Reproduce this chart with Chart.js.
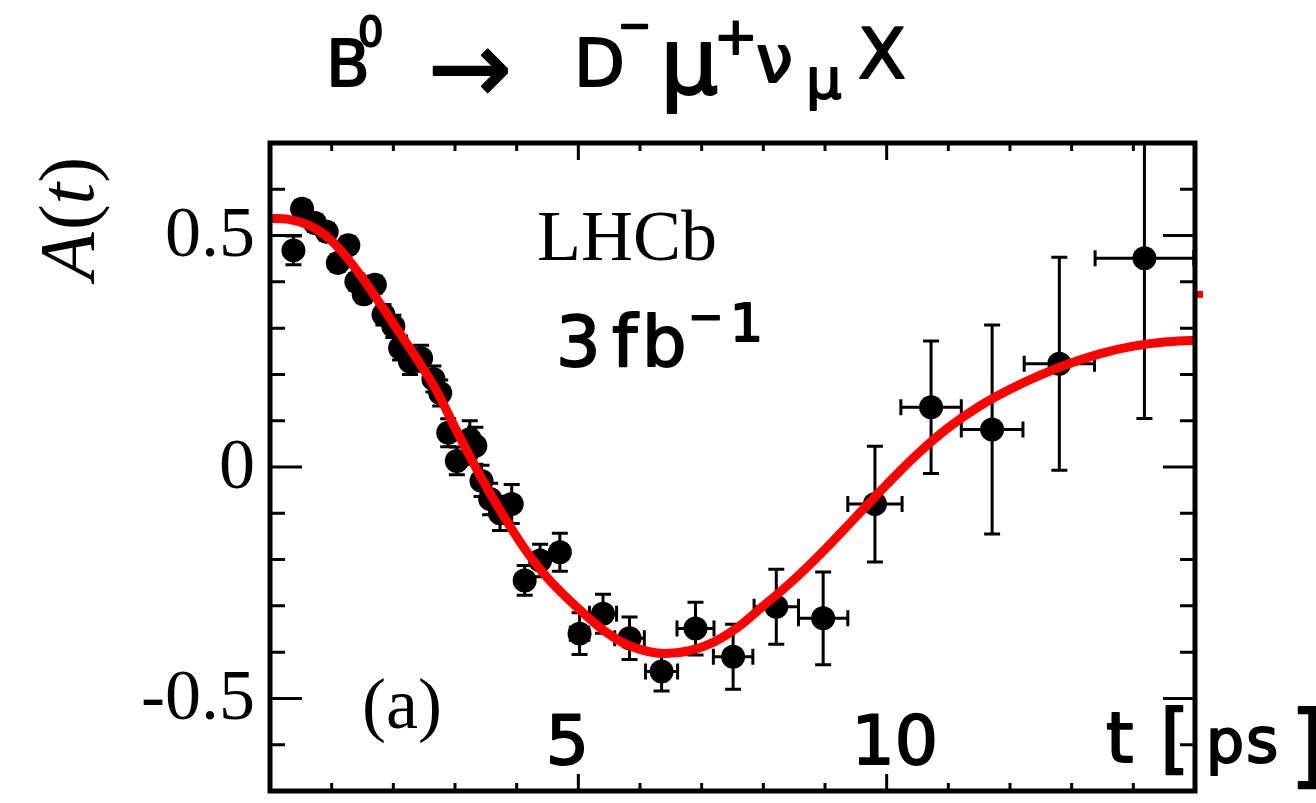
<!DOCTYPE html>
<html>
<head>
<meta charset="utf-8">
<title>A(t)</title>
<script src="https://cdn.jsdelivr.net/npm/chart.js@4.4.1/dist/chart.umd.min.js"></script>
<style>
  html, body { margin: 0; padding: 0; background: #fff; }
  #wrap { width: 1316px; height: 803px; position: relative; }
</style>
</head>
<body>
<div id="wrap"><canvas id="asym"></canvas></div>
<script>
// measured asymmetry per decay-time bin [ps]
const binTime = [0.38, 0.52, 0.73, 0.92, 1.10, 1.27, 1.40, 1.52, 1.70, 1.84, 2.00, 2.11, 2.27, 2.45, 2.65, 2.76,
  2.89, 3.03, 3.24, 3.33, 3.43, 3.57, 3.73, 3.92, 4.13, 4.38, 4.70, 5.02, 5.40, 5.83, 6.35, 6.90, 7.51, 8.21,
  8.97, 9.81, 10.72, 11.71, 12.80, 14.18];
const binAsym = [0.468, 0.558, 0.527, 0.508, 0.441, 0.479, 0.400, 0.373, 0.394, 0.329, 0.304, 0.257, 0.228, 0.235, 0.190, 0.160,
  0.074, 0.013, 0.060, 0.046, -0.030, -0.069, -0.100, -0.080, -0.245, -0.202, -0.184, -0.360, -0.317, -0.370, -0.442, -0.349, -0.410, -0.302,
  -0.327, -0.080, 0.129, 0.081, 0.223, 0.451];
const binErr = [0.031, 0.018, 0.018, 0.018, 0.018, 0.018, 0.018, 0.018, 0.018, 0.022, 0.024, 0.026, 0.028, 0.028, 0.028, 0.028,
  0.030, 0.030, 0.040, 0.040, 0.034, 0.034, 0.037, 0.042, 0.032, 0.035, 0.041, 0.045, 0.042, 0.046, 0.042, 0.057, 0.070, 0.081,
  0.100, 0.125, 0.143, 0.226, 0.230, 0.346];
const binHalfWidth = [0.08, 0.08, 0.08, 0.08, 0.08, 0.08, 0.08, 0.08, 0.08, 0.08, 0.08, 0.08, 0.08, 0.08, 0.08, 0.08,
  0.08, 0.08, 0.1, 0.1, 0.1, 0.1, 0.1, 0.1, 0.12, 0.12, 0.12, 0.15, 0.22, 0.24, 0.26, 0.30, 0.32, 0.36,
  0.40, 0.44, 0.49, 0.50, 0.57, 0.80];

// fit curve
const fitTime = [0, 0.3, 0.6, 0.9, 1.2, 1.5, 1.8, 2.1, 2.4, 2.7, 3.0, 3.3, 3.6, 3.9, 4.2, 4.5, 4.8, 5.1, 5.4, 5.7,
  6.0, 6.4, 6.8, 7.2, 7.6, 8.0, 8.5, 9.0, 9.5, 10.0, 10.5, 11.0, 11.5, 12.0, 12.5, 13.0, 13.5, 14.0, 14.5, 15.0];
const fitAsym = [0.537, 0.535, 0.524, 0.500, 0.460, 0.408, 0.350, 0.290, 0.230, 0.165, 0.085, 0.008, -0.064, -0.130, -0.190, -0.240, -0.281, -0.318, -0.352, -0.378,
  -0.394, -0.403, -0.397, -0.378, -0.345, -0.300, -0.243, -0.178, -0.108, -0.038, 0.028, 0.085, 0.131, 0.168, 0.199, 0.225, 0.246, 0.261, 0.270, 0.274];

// little red piece poking out past the right frame
const stubTime = [15.01, 15.13];
const stubAsym = [0.373, 0.373];

const yLabelValues = [0.5, 0, -0.5];
const yLabelTexts = ['0.5', '0', '-0.5'];
const xLabelValues = [5, 10];
const xLabelTexts = ['5', '10'];

const SERIF = '"Liberation Serif", "Times New Roman", serif';
const HAND = '"DejaVu Sans", sans-serif';

function txt(ctx, s, x, y, font, align, base) {
  ctx.font = font;
  ctx.textAlign = align || 'left';
  ctx.textBaseline = base || 'alphabetic';
  ctx.fillText(s, x, y);
}

// pen-like text: regular glyphs with a thin outline to thicken the strokes
function pen(ctx, s, x, y, size, align, base) {
  ctx.font = size + 'px ' + HAND;
  ctx.textAlign = align || 'left';
  ctx.textBaseline = base || 'alphabetic';
  ctx.lineWidth = 2;
  ctx.lineJoin = 'round';
  ctx.strokeStyle = '#000';
  ctx.fillText(s, x, y);
  ctx.strokeText(s, x, y);
}

const errorBars = {
  id: 'errorBars',
  beforeDatasetsDraw(chart) {
    const { ctx, chartArea: a, scales: { x, y } } = chart;
    ctx.save();
    ctx.beginPath();
    ctx.rect(a.left, a.top, a.right - a.left, a.bottom - a.top);
    ctx.clip();
    ctx.strokeStyle = '#000';
    ctx.lineWidth = 3;
    binTime.forEach((t, i) => {
      const px = x.getPixelForValue(t);
      const py = y.getPixelForValue(binAsym[i]);
      const yHi = y.getPixelForValue(binAsym[i] + binErr[i]);
      const yLo = y.getPixelForValue(binAsym[i] - binErr[i]);
      const xL = x.getPixelForValue(t - binHalfWidth[i]);
      const xR = x.getPixelForValue(t + binHalfWidth[i]);
      ctx.beginPath();
      ctx.moveTo(px, yHi); ctx.lineTo(px, yLo);
      ctx.moveTo(px - 8, yHi); ctx.lineTo(px + 8, yHi);
      ctx.moveTo(px - 8, yLo); ctx.lineTo(px + 8, yLo);
      ctx.moveTo(xL, py); ctx.lineTo(xR, py);
      ctx.moveTo(xL, py - 8); ctx.lineTo(xL, py + 8);
      ctx.moveTo(xR, py - 8); ctx.lineTo(xR, py + 8);
      ctx.stroke();
    });
    ctx.restore();
  }
};

const frame = {
  id: 'frame',
  afterDatasetsDraw(chart) {
    const { ctx, chartArea: a, scales: { x, y } } = chart;
    ctx.save();
    ctx.strokeStyle = '#000';

    // ticks on all four sides, pointing inwards
    ctx.lineWidth = 3;
    ctx.beginPath();
    for (let k = -7; k <= 7; k++) {
      const py = y.getPixelForValue(k / 10);
      const len = k % 5 === 0 ? 32 : 15;
      ctx.moveTo(a.left, py); ctx.lineTo(a.left + len, py);
      ctx.moveTo(a.right, py); ctx.lineTo(a.right - len, py);
    }
    for (let k = 0; k <= 15; k++) {
      const px = x.getPixelForValue(k);
      const len = k % 5 === 0 ? 17 : 8;
      ctx.moveTo(px, a.bottom); ctx.lineTo(px, a.bottom - len);
      ctx.moveTo(px, a.top); ctx.lineTo(px, a.top + len);
    }
    ctx.stroke();

    ctx.lineWidth = 5;
    ctx.strokeRect(a.left, a.top, a.right - a.left, a.bottom - a.top);
    ctx.restore();
  },
  afterDraw(chart) {
    const { ctx, chartArea: a, scales: { x, y } } = chart;
    ctx.save();
    ctx.fillStyle = '#000';

    // y tick labels
    yLabelValues.forEach((v, i) => {
      txt(ctx, yLabelTexts[i], a.left - 15, y.getPixelForValue(v) + 2, '72px ' + SERIF, 'right', 'middle');
    });

    // y axis title A(t), rotated
    ctx.save();
    ctx.translate(93, 280);
    ctx.rotate(-Math.PI / 2);
    let cx = 0;
    const parts = [['A', 'italic 78px '], ['(', '78px '], ['t', 'italic 78px '], [')', '78px ']];
    parts.forEach(([s, f]) => {
      ctx.font = f + SERIF;
      ctx.textAlign = 'left';
      ctx.textBaseline = 'alphabetic';
      ctx.fillText(s, cx, 0);
      cx += ctx.measureText(s).width + (s === 'A' ? 2 : 0);
    });
    ctx.restore();

    // panel texts
    txt(ctx, 'LHCb', 537, 260, '72px ' + SERIF);
    txt(ctx, '(a)', 362, 728, '72px ' + SERIF);

    // hand-written notes
    pen(ctx, '3', 556, 366, 70);
    pen(ctx, 'f', 612, 366, 72);
    pen(ctx, 'b', 642, 366, 70);
    pen(ctx, '\u2212', 688, 320, 42, 'left', 'middle');
    pen(ctx, '1', 730, 341, 52);

    xLabelValues.forEach((v, i) => {
      const off = v === 5 ? -11 : 8;
      pen(ctx, xLabelTexts[i], x.getPixelForValue(v) + off, 764, 68, 'center');
    });
    pen(ctx, 't', 1106, 762, 70);
    pen(ctx, '[', 1160, 764, 76);
    pen(ctx, 'p', 1206, 762, 60);
    pen(ctx, 's', 1246, 762, 62);
    pen(ctx, ']', 1290, 776, 90);

    // decay channel written above the frame
    pen(ctx, 'B', 326, 86, 64);
    pen(ctx, '0', 358, 46, 40);
    pen(ctx, '\u2192', 428, 76, 100, 'left', 'middle');
    pen(ctx, 'D', 574, 86, 66);
    pen(ctx, '\u2212', 618, 29, 40, 'left', 'middle');
    pen(ctx, '\u03bc', 660, 94, 92);
    pen(ctx, '+', 714, 40, 52, 'left', 'middle');
    pen(ctx, '\u03bd', 756, 82, 66);
    pen(ctx, '\u03bc', 806, 98, 56);
    pen(ctx, 'X', 858, 78, 70);

    ctx.restore();
  }
};

new Chart(document.getElementById('asym'), {
  type: 'scatter',
  data: {
    datasets: [
      {
        type: 'line',
        label: 'fit',
        data: fitTime.map((t, i) => ({ x: t, y: fitAsym[i] })),
        borderColor: '#ff0000',
        borderWidth: 9,
        pointRadius: 0,
        cubicInterpolationMode: 'monotone',
        fill: false,
        order: 0
      },
      {
        type: 'line',
        label: 'stub',
        data: stubTime.map((t, i) => ({ x: t, y: stubAsym[i] })),
        borderColor: '#ff0000',
        borderWidth: 7,
        borderCapStyle: 'butt',
        pointRadius: 0,
        clip: false,
        order: 0
      },
      {
        label: 'data',
        data: binTime.map((t, i) => ({ x: t, y: binAsym[i] })),
        backgroundColor: '#000',
        borderWidth: 0,
        pointRadius: 12,
        pointHoverRadius: 12,
        order: 1
      }
    ]
  },
  options: {
    responsive: true,
    maintainAspectRatio: false,
    animation: false,
    events: [],
    layout: { padding: { left: 270, right: 121, top: 143, bottom: 8 } },
    plugins: { legend: { display: false }, tooltip: { enabled: false } },
    scales: {
      x: { type: 'linear', min: 0, max: 15, display: false },
      y: { type: 'linear', min: -0.7, max: 0.7, display: false }
    }
  },
  plugins: [errorBars, frame]
});
</script>
</body>
</html>
